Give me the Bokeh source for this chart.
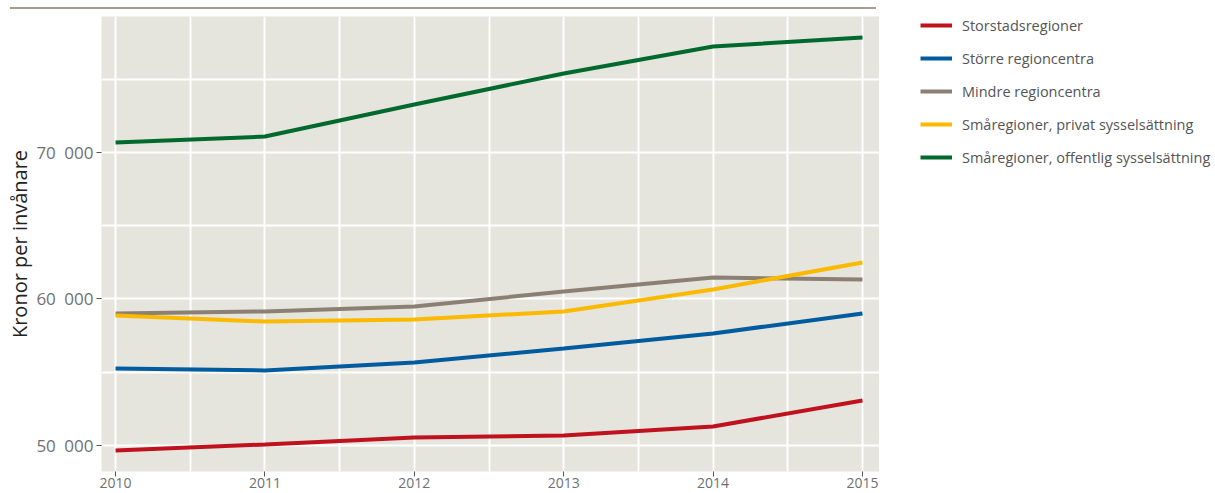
from bokeh.plotting import figure
from bokeh.models import FixedTicker, Legend, LegendItem, Div, Range1d
from bokeh.layouts import column, row
from bokeh.embed import file_html
from bokeh.resources import INLINE

years = [2010, 2011, 2012, 2013, 2014, 2015]
storstad = [49660, 50070, 50550, 50680, 51300, 53070]
storre = [55260, 55120, 55670, 56620, 57650, 59010]
mindre = [59010, 59150, 59490, 60510, 61470, 61330]
sma_privat = [58870, 58460, 58600, 59150, 60650, 62490]
sma_offentlig = [70680, 71090, 73280, 75390, 77240, 77850]

labels = ["Storstadsregioner", "Större regioncentra", "Mindre regioncentra",
          "Småregioner, privat sysselsättning", "Småregioner, offentlig sysselsättning"]
series = [storstad, storre, mindre, sma_privat, sma_offentlig]
colors = ["#c0111f", "#005b9f", "#8c8074", "#fbba00", "#006a2e"]

y_ticks = [50000, 60000, 70000]
y_minor = [55000, 65000, 75000]
y_tick_labels = ["50\u2002000", "60\u2002000", "70\u2002000"]
x_minor = [2010.5, 2011.5, 2012.5, 2013.5, 2014.5]

FONT = "Open Sans"
H = 481

xr = Range1d(2009.906, 2015.114)
yr = Range1d(48225, 79283)

p = figure(width=879, height=H, x_range=xr, y_range=yr,
           output_backend="svg", toolbar_location=None,
           min_border_left=101, min_border_right=0, min_border_top=2, min_border_bottom=24)
p.background_fill_color = "#e5e4dd"
p.border_fill_color = "white"
p.outline_line_color = None

p.xaxis.ticker = FixedTicker(ticks=years, minor_ticks=x_minor)
p.yaxis.ticker = FixedTicker(ticks=y_ticks, minor_ticks=y_minor)
p.yaxis.major_label_overrides = {t: l for t, l in zip(y_ticks, y_tick_labels)}

for g in (p.xgrid, p.ygrid):
    g.grid_line_color = "white"
    g.grid_line_width = 2
    g.minor_grid_line_color = "white"
    g.minor_grid_line_width = 2

for ax in (p.xaxis, p.yaxis):
    ax.axis_line_color = None
    ax.minor_tick_line_color = None
    ax.major_tick_line_color = "#555555"
    ax.major_tick_in = 0
    ax.major_tick_out = 5
    ax.major_label_text_font = FONT
    ax.major_label_text_color = "#707070"

p.xaxis.major_label_text_font_size = "14px"
p.yaxis.major_label_text_font_size = "17px"
p.xaxis.major_label_standoff = 1
p.yaxis.major_label_standoff = 3
p.yaxis.axis_label = "Kronor per invånare"
p.yaxis.axis_label_text_font = FONT
p.yaxis.axis_label_text_font_size = "20px"
p.yaxis.axis_label_text_font_style = "normal"
p.yaxis.axis_label_text_color = "#222222"
p.yaxis.axis_label_standoff = 0

for vals, col in zip(series, colors):
    p.line(years, vals, line_color=col, line_width=4)

# Legend panel: a bare figure beside the chart holding the legend
lf = figure(width=336, height=H, x_range=xr, y_range=yr,
            output_backend="svg", toolbar_location=None,
            x_axis_location=None, y_axis_location=None,
            min_border_left=0, min_border_right=0, min_border_top=0, min_border_bottom=0)
lf.grid.visible = False
lf.outline_line_color = None
lf.background_fill_color = "white"
lf.border_fill_color = "white"

items = []
for lab, vals, col in zip(labels, series, colors):
    r = lf.line(years, vals, line_color=col, line_width=4, visible=False)
    items.append(LegendItem(label=lab, renderers=[r]))

legend = Legend(items=items, location=(41, 304), orientation="vertical",
                glyph_width=32, glyph_height=20, label_height=20, spacing=13,
                padding=0, margin=0, border_line_color=None, background_fill_alpha=0,
                label_text_font=FONT, label_text_font_size="14.5px",
                label_text_color="#555555", label_standoff=10)
lf.add_layout(legend)

rule = Div(text="", width=866, height=4,
           styles={"border-bottom": "2px solid #a89d90", "margin-left": "10px", "box-sizing": "border-box"})

layout = column(rule, row(p, lf, spacing=0), spacing=0)
open("out.html", "w").write(file_html(layout, INLINE))
